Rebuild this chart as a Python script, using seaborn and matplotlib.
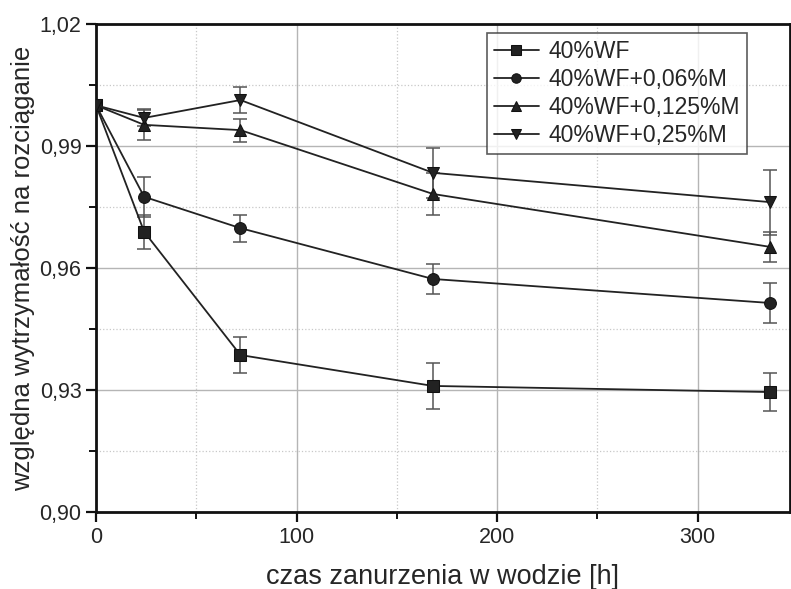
import pandas as pd
import seaborn as sns
import matplotlib.pyplot as plt
from matplotlib.ticker import MultipleLocator, FuncFormatter

# data
hours = [0, 24, 72, 168, 336]
series_names = ['40%WF', '40%WF+0,06%M', '40%WF+0,125%M', '40%WF+0,25%M']
wf = [1.000, 0.9689, 0.9386, 0.9310, 0.9295]
wf_006 = [1.000, 0.9775, 0.9698, 0.9573, 0.9514]
wf_0125 = [1.000, 0.9952, 0.9939, 0.9782, 0.9652]
wf_025 = [1.000, 0.9969, 1.0013, 0.9834, 0.9762]
err_wf = [0, 0.0042, 0.0045, 0.0056, 0.0047]
err_006 = [0, 0.0049, 0.0033, 0.0038, 0.0050]
err_0125 = [0, 0.0038, 0.0028, 0.0051, 0.0037]
err_025 = [0, 0.0020, 0.0033, 0.0062, 0.0080]

values = [wf, wf_006, wf_0125, wf_025]
errors = [err_wf, err_006, err_0125, err_025]
markers = {'40%WF': 's', '40%WF+0,06%M': 'o',
           '40%WF+0,125%M': '^', '40%WF+0,25%M': 'v'}

rows = []
for name, vals, errs in zip(series_names, values, errors):
    for h, v, e in zip(hours, vals, errs):
        rows.append({'czas': h, 'wartosc': v, 'err': e, 'seria': name})
df = pd.DataFrame(rows)

sns.set_style('white')
plt.rcParams['font.family'] = ['Liberation Sans', 'DejaVu Sans']

fig = plt.figure(figsize=(7.91, 5.89), dpi=100)
ax = fig.add_axes([0.1214, 0.1307, 0.8773, 0.8286])

# error bars first so markers sit on top
for name in series_names:
    d = df[df['seria'] == name]
    ax.errorbar(d['czas'], d['wartosc'], yerr=d['err'], fmt='none',
                ecolor='#555555', elinewidth=1.1, capsize=5, capthick=1.1, zorder=2)

sns.lineplot(data=df, x='czas', y='wartosc', hue='seria', style='seria',
             markers=markers, dashes=False, palette=['#222222'] * 4,
             linewidth=1.3, markersize=8.5, markeredgecolor='#111111',
             ax=ax, zorder=3)

ax.set_xlim(0, 346)
ax.set_ylim(0.90, 1.02)
ax.xaxis.set_major_locator(MultipleLocator(100))
ax.xaxis.set_minor_locator(MultipleLocator(50))
ax.yaxis.set_major_locator(MultipleLocator(0.03))
ax.yaxis.set_minor_locator(MultipleLocator(0.015))
ax.yaxis.set_major_formatter(FuncFormatter(lambda v, p: f'{v:.2f}'.replace('.', ',')))

ax.grid(which='major', color='#b5b5b5', linewidth=1.0, linestyle='-')
ax.grid(which='minor', color='#c8c8c8', linewidth=0.9, linestyle=':')
ax.set_axisbelow(True)

for s in ax.spines.values():
    s.set_color('#111111')
    s.set_linewidth(2.0)

ax.tick_params(which='major', direction='out', length=7, width=1.6,
               labelsize=15.5, color='#111111', left=True, bottom=True)
ax.tick_params(which='minor', direction='out', length=5, width=1.4,
               color='#111111', left=True, bottom=True)

ax.set_xlabel('czas zanurzenia w wodzie [h]', fontsize=19.5, labelpad=12)
ax.set_ylabel('względna wytrzymałość na rozciąganie', fontsize=18.5, labelpad=3)

leg = ax.legend(loc='upper right', bbox_to_anchor=(0.938, 0.982), fontsize=16.5,
                frameon=True, fancybox=False, edgecolor='#333333',
                handlelength=2.0, handletextpad=0.4, borderpad=0.3,
                labelspacing=0.22, markerscale=0.8, borderaxespad=0)
leg.get_frame().set_linewidth(1.2)

plt.savefig('out.png', dpi=100)
